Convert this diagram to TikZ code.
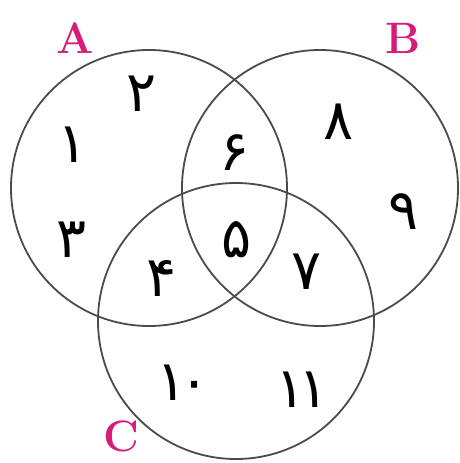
\documentclass[tikz,border=0pt]{standalone}
\usepackage{fontspec}
\usepackage{xcolor}
\usepackage{tikz}
\newfontfamily\arabicfont[Script=Arabic]{DejaVu Sans}
\definecolor{setpink}{RGB}{214,28,120}
\definecolor{ringgray}{RGB}{75,75,75}

\begin{document}
\begin{tikzpicture}[
  x=1pt, y=-1pt,
  ring/.style={draw=ringgray,line width=1.8pt},
  setname/.style={text=setpink,inner sep=0pt,font=\fontsize{44}{44}\selectfont\bfseries},
  elem/.style={font=\fontsize{56}{56}\selectfont\arabicfont},
]
\useasboundingbox (0,0) rectangle (459,463);
\draw[ring] (149,188) circle[radius=138pt];
\draw[ring] (320,188) circle[radius=138pt];
\draw[ring] (236,321) circle[radius=138pt];
\node[setname] (A) at (75,38) {A};
\node[setname] (B) at (403,38) {B};
\node[setname] (C) at (121,436) {C};
\node[elem] (e1) at (73,145) {۱};
\node[elem] (e2) at (142,94) {۲};
\node[elem] (e3) at (72,240) {۳};
\node[elem] (e4) at (162,278) {۴};
\node[elem] (e5) at (237,240) {۵};
\node[elem] (e6) at (235,153) {۶};
\node[elem] (e7) at (307,272) {۷};
\node[elem] (e8) at (339,122) {۸};
\node[elem] (e9) at (404,212) {۹};
\node[elem] (e10) at (183,383) {۱\kern-.12em۰};
\node[elem] (e11) at (302,390) {۱\kern-.12em۱};
\end{tikzpicture}
\end{document}
